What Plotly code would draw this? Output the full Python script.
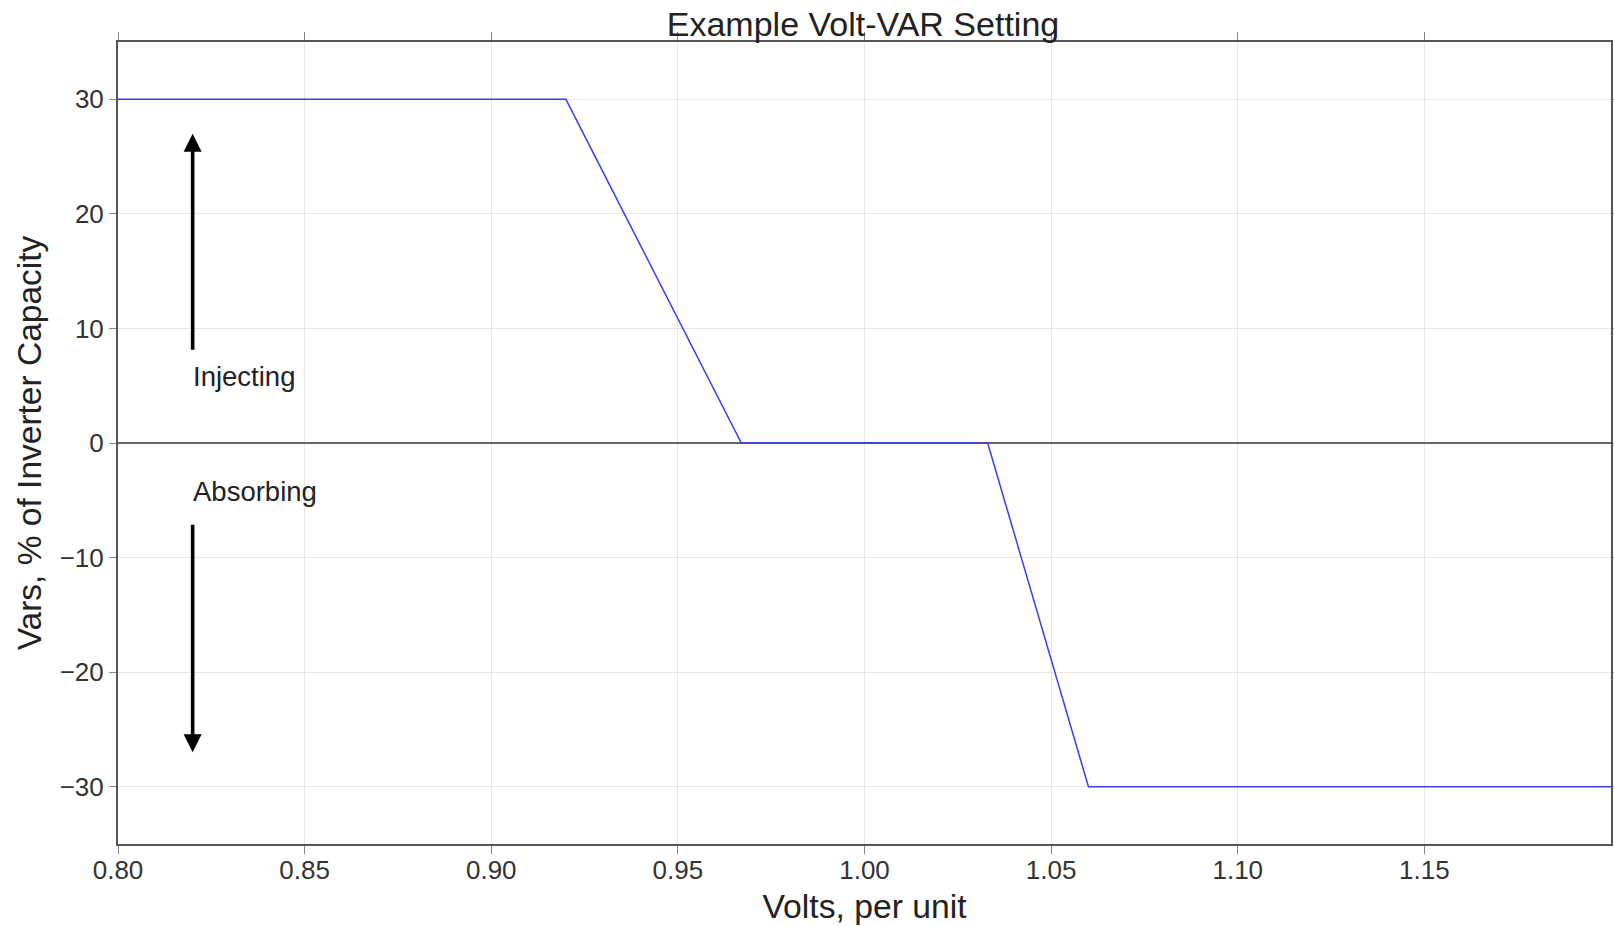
import plotly.graph_objects as go

# Volt-VAR curve
volts = [0.80, 0.92, 0.967, 1.033, 1.06, 1.20]
vars_pct = [30, 30, 0, 0, -30, -30]

x_ticks = [0.80, 0.85, 0.90, 0.95, 1.00, 1.05, 1.10, 1.15]
x_tick_labels = ["0.80", "0.85", "0.90", "0.95", "1.00", "1.05", "1.10", "1.15"]
y_ticks = [-30, -20, -10, 0, 10, 20, 30]
y_tick_labels = ["\u221230", "\u221220", "\u221210", "0", "10", "20", "30"]

# arrows & labels
arrow_x = 0.82
inject_arrow = (8, 27)     # tail, tip
absorb_arrow = (-7, -27)   # tail, tip
label_texts = ["Injecting", "Absorbing"]
label_y = [5.8, -4.2]

FONT = "Liberation Sans, Arial, Helvetica, sans-serif"
FRAME = "#555555"

fig = go.Figure()
fig.add_trace(go.Scatter(x=volts, y=vars_pct, mode="lines",
                         line=dict(color="rgb(60,60,235)", width=1.5),
                         showlegend=False, hoverinfo="skip"))

for tail, tip in [inject_arrow, absorb_arrow]:
    fig.add_annotation(x=arrow_x, y=tip, ax=arrow_x, ay=tail,
                       xref="x", yref="y", axref="x", ayref="y",
                       text="", showarrow=True, arrowhead=2, arrowsize=1.0,
                       arrowwidth=3.6, arrowcolor="black", standoff=0)

for txt, yy in zip(label_texts, label_y):
    fig.add_annotation(x=arrow_x, y=yy, xref="x", yref="y", text=txt,
                       showarrow=False, xanchor="left", yanchor="middle",
                       xshift=-2,
                       font=dict(family=FONT, size=27.5, color="#222222"))

fig.update_layout(
    width=1614, height=926,
    margin=dict(l=118, r=3, t=42, b=82),
    paper_bgcolor="white", plot_bgcolor="white",
    font=dict(family=FONT, color="#333333"),
    title=dict(text="Example Volt-VAR Setting", x=0.5347, xanchor="center",
               y=0.974, yanchor="middle", yref="container",
               font=dict(family=FONT, size=34, color="#222222")),
    showlegend=False,
)

fig.update_xaxes(range=[0.80, 1.20], tickvals=x_ticks, ticktext=x_tick_labels,
                 automargin=False,
                 showgrid=True, gridcolor="#e6e6e6", gridwidth=1,
                 showline=True, linecolor=FRAME, linewidth=2, mirror="ticks",
                 ticks="outside", ticklen=8, tickcolor="#888888", tickwidth=1,
                 ticklabelstandoff=-6,
                 tickfont=dict(family=FONT, size=26, color="#333333"),
                 zeroline=False,
                 title=dict(text="Volts, per unit", standoff=10,
                            font=dict(family=FONT, size=33.7, color="#222222")))
fig.update_yaxes(range=[-35, 35], tickvals=y_ticks, ticktext=y_tick_labels,
                 automargin=False,
                 showgrid=True, gridcolor="#e6e6e6", gridwidth=1,
                 showline=True, linecolor=FRAME, linewidth=2, mirror="ticks",
                 ticks="outside", ticklen=7, tickcolor="#888888", tickwidth=1,
                 tickfont=dict(family=FONT, size=26, color="#333333"),
                 zeroline=True, zerolinecolor="#666666", zerolinewidth=2,
                 title=dict(text="Vars, % of Inverter Capacity", standoff=8,
                            font=dict(family=FONT, size=33.5, color="#222222")))

fig.write_html("out.html", config={"displayModeBar": False},
               post_script="document.body.style.margin='0';document.body.style.overflow='hidden';")
